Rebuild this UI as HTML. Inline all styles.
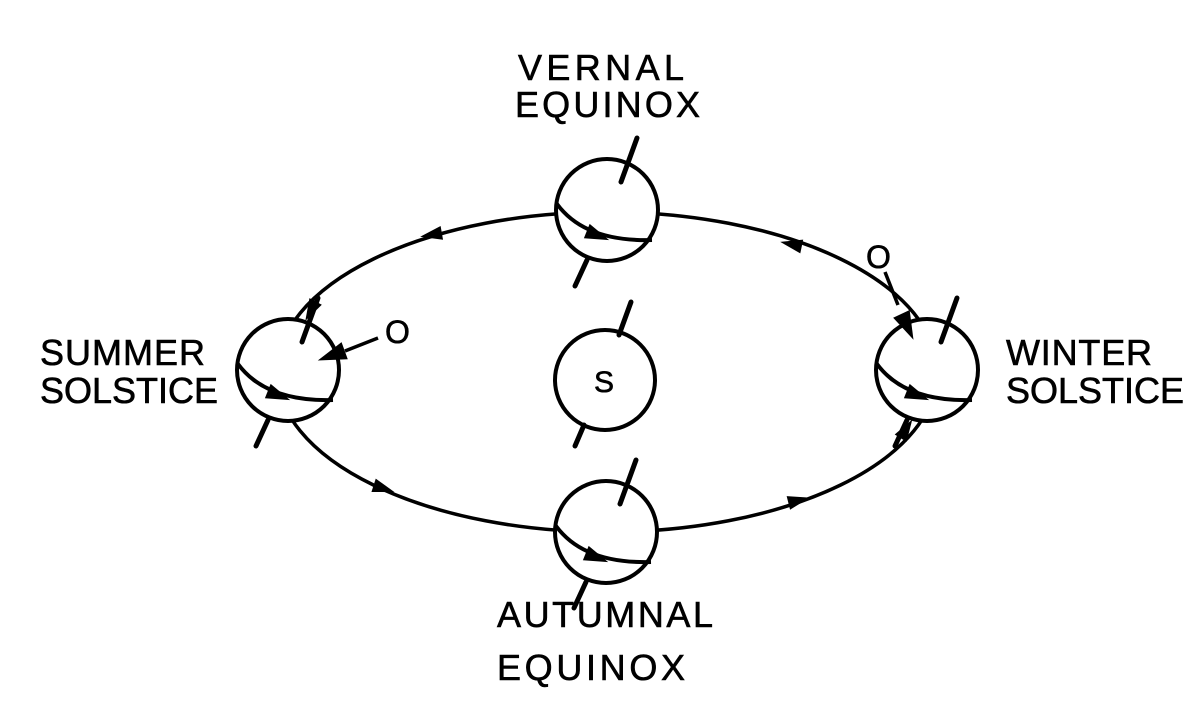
<!DOCTYPE html>
<html><head><style>
html,body{margin:0;padding:0;background:#fff;}
svg{display:block;}
text{font-family:"Liberation Sans",sans-serif;font-size:36px;fill:#000;stroke:#000;stroke-width:0.6;}
</style></head><body>
<svg width="1200" height="717" viewBox="0 0 1200 717" xmlns="http://www.w3.org/2000/svg">
<defs>
<path id="ah" d="M10,0 L-12,-7 L-12,7 Z" fill="#000"/>
<g id="globe">
  <circle cx="0" cy="0" r="51" fill="#fff" stroke="#000" stroke-width="4"/>
  <path d="M-50,-6 Q-22,32 45,30" fill="none" stroke="#000" stroke-width="4"/>
  <use href="#ah" transform="translate(-8,26) rotate(22) scale(1.1)"/>
  <line x1="14" y1="-28" x2="30" y2="-72" stroke="#000" stroke-width="5" stroke-linecap="round"/>
  <line x1="-20" y1="50" x2="-32" y2="76" stroke="#000" stroke-width="5" stroke-linecap="round"/>
</g>
</defs>
<ellipse cx="607" cy="372" rx="330" ry="160" fill="none" stroke="#000" stroke-width="3.5"/>
<use href="#ah" transform="translate(430,235) rotate(170)"/>
<use href="#ah" transform="translate(310,312) rotate(118)"/>
<use href="#ah" transform="translate(385,489) rotate(18)"/>
<use href="#ah" transform="translate(800,500) rotate(-14)"/>
<use href="#ah" transform="translate(790,244) rotate(192)"/>
<use href="#ah" transform="translate(907,428) rotate(-58)"/>
<use href="#globe" x="288" y="370"/>
<use href="#globe" x="607" y="210"/>
<use href="#globe" x="606" y="532"/>
<use href="#globe" x="927" y="370"/>
<circle cx="605" cy="380" r="50" fill="#fff" stroke="#000" stroke-width="4"/>
<line x1="619" y1="335" x2="631" y2="302" stroke="#000" stroke-width="5" stroke-linecap="round"/>
<line x1="584" y1="425" x2="575" y2="446" stroke="#000" stroke-width="5" stroke-linecap="round"/>
<text x="594" y="392" style="font-size:30px">S</text>
<text x="385" y="343" style="font-size:32px">O</text>
<line x1="378" y1="338" x2="345" y2="351" stroke="#000" stroke-width="3.5"/>
<use href="#ah" transform="translate(330,356) rotate(160) scale(1.3)"/>
<text x="866" y="268" style="font-size:32px">O</text>
<line x1="885" y1="272" x2="898" y2="305" stroke="#000" stroke-width="3.5"/>
<use href="#ah" transform="translate(908,328) rotate(65) scale(1.3)"/>
<text x="518" y="80" textLength="166">VERNAL</text>
<text x="515" y="117" textLength="185">EQUINOX</text>
<text x="40" y="365" textLength="165">SUMMER</text>
<text x="40" y="403" textLength="178">SOLSTICE</text>
<text x="1006" y="365" textLength="146">WINTER</text>
<text x="1006" y="403" textLength="178">SOLSTICE</text>
<text x="497" y="627" textLength="216">AUTUMNAL</text>
<text x="497" y="680" textLength="188">EQUINOX</text>
</svg>
</body></html>
